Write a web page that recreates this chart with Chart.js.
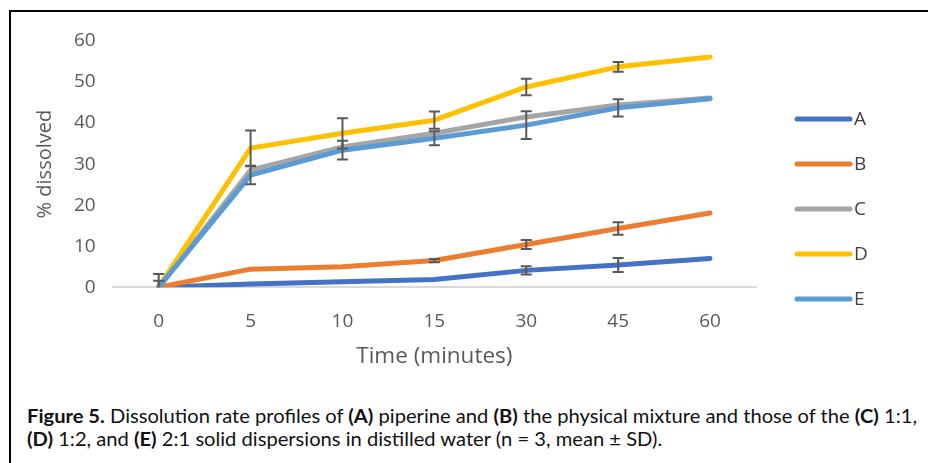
<!DOCTYPE html>
<html>
<head>
<meta charset="utf-8">
<script src="https://cdn.jsdelivr.net/npm/chart.js@4"></script>
<style>
  html, body { margin: 0; padding: 0; background: #fff; }
  body { width: 928px; height: 463px; position: relative; overflow: hidden; }
  #frame { position: absolute; left: 9px; top: 10px; width: 1000px; height: 500px;
           border-top: 2px solid #000; border-left: 2px solid #000; }
  #chart { position: absolute; left: 0; top: 0; }
  .caption { position: absolute; left: 27px; font-family: Lato, "Noto Sans", sans-serif;
             font-size: 19px; line-height: 23px; color: #111; white-space: nowrap;
             transform-origin: 0 0; }
  .caption b { font-weight: 700; }
</style>
</head>
<body>
<div id="frame"></div>
<canvas id="chart" width="928" height="380"></canvas>
<div class="caption" id="cap1" style="top:404px"><b>Figure 5.</b> Dissolution rate profiles of <b>(A)</b> piperine and <b>(B)</b> the physical mixture and those of the <b>(C)</b> 1:1,</div>
<div class="caption" id="cap2" style="top:427px"><b>(D)</b> 1:2, and <b>(E)</b> 2:1 solid dispersions in distilled water (n = 3, mean ± SD).</div>
<script>
// time points (minutes)
const timeLabels = ['0', '5', '10', '15', '30', '45', '60'];
const seriesNames = ['A', 'B', 'C', 'D', 'E'];
const seriesColors = ['#4472C4', '#ED7D31', '#A5A5A5', '#FFC000', '#5B9BD5'];

// % dissolved
const valuesA = [0, 0.8, 1.3, 1.9, 4.1, 5.4, 7.0];
const valuesB = [0, 4.4, 5.0, 6.5, 10.4, 14.3, 18.1];
const valuesC = [0, 28.5, 34.2, 37.5, 41.5, 44.4, 46.1];
const valuesD = [0, 33.9, 37.5, 40.7, 48.8, 53.7, 56.1];
const valuesE = [0, 27.3, 33.4, 36.3, 39.5, 43.7, 45.9];

// SD (error bars)
const sdA = [0, 0, 0, 0, 1.0, 1.7, 0];
const sdB = [0, 0, 0, 0.4, 1.1, 1.5, 0];
const sdC = [0, 0, 0, 0, 0, 0, 0];
const sdD = [3.2, 4.3, 3.7, 2.1, 2.0, 1.2, 0];
const sdE = [1.6, 2.2, 2.3, 1.7, 3.4, 2.1, 0];

const yTicks = { min: 0, max: 60, step: 10 };

const allValues = [valuesA, valuesB, valuesC, valuesD, valuesE];
const allSd = [sdA, sdB, sdC, sdD, sdE];

const tickColor = '#595959';
const chartFont = '"Open Sans"';

/**
 * Error bars drawn from the sd arrays through the y scale
 */
const errorBars = {
  id: 'errorBars',
  afterDatasetsDraw(chart) {
    const { ctx, chartArea, scales: { y } } = chart;
    ctx.save();
    ctx.beginPath();
    ctx.rect(chartArea.left, chartArea.top - 20, chartArea.right - chartArea.left, chartArea.bottom - chartArea.top + 20);
    ctx.clip();
    ctx.strokeStyle = tickColor;
    ctx.lineWidth = 2;
    chart.data.datasets.forEach((ds, di) => {
      const meta = chart.getDatasetMeta(di);
      ds.sd.forEach((e, i) => {
        if (!e) return;
        const x = meta.data[i].x;
        const yHi = y.getPixelForValue(ds.data[i] + e);
        const yLo = y.getPixelForValue(ds.data[i] - e);
        ctx.beginPath();
        ctx.moveTo(x, yHi); ctx.lineTo(x, yLo);
        ctx.moveTo(x - 5.5, yHi); ctx.lineTo(x + 5.5, yHi);
        ctx.moveTo(x - 5.5, yLo); ctx.lineTo(x + 5.5, yLo);
        ctx.stroke();
      });
    });
    ctx.restore();
  }
};

/**
 * Legend on the right, one line sample per series
 */
const sideLegend = {
  id: 'sideLegend',
  afterDraw(chart) {
    const { ctx } = chart;
    ctx.save();
    ctx.font = '19px ' + chartFont;
    ctx.textBaseline = 'middle';
    ctx.lineCap = 'round';
    ctx.lineWidth = 5;
    chart.data.datasets.forEach((ds, i) => {
      const yy = 119 + i * 45;
      ctx.strokeStyle = ds.borderColor;
      ctx.beginPath();
      ctx.moveTo(797, yy); ctx.lineTo(850, yy);
      ctx.stroke();
      ctx.fillStyle = '#404040';
      ctx.fillText(ds.label, 854, yy + 1);
    });
    ctx.restore();
  }
};

const datasets = seriesNames.map((name, i) => ({
  label: name,
  data: allValues[i],
  sd: allSd[i],
  borderColor: seriesColors[i],
  backgroundColor: seriesColors[i],
  borderWidth: 5,
  borderCapStyle: 'round',
  borderJoinStyle: 'round',
  pointRadius: 0,
  tension: 0,
  order: seriesNames.length - i
}));

new Chart(document.getElementById('chart').getContext('2d'), {
  type: 'line',
  data: { labels: timeLabels, datasets },
  options: {
    responsive: false,
    animation: false,
    layout: { padding: { left: 18, top: 41, right: 172, bottom: 10 } },
    plugins: { legend: { display: false }, tooltip: { enabled: false } },
    scales: {
      x: {
        offset: true,
        grid: { display: false, drawTicks: false },
        border: { display: true, color: '#D9D9D9', width: 2 },
        ticks: { color: tickColor, font: { family: chartFont, size: 19 }, padding: 23 },
        title: { display: true, text: 'Time (minutes)', color: tickColor,
                 font: { family: chartFont, size: 22.5 }, padding: { top: -13, bottom: 0 } }
      },
      y: {
        min: yTicks.min,
        max: yTicks.max,
        grid: { display: false, drawTicks: false },
        border: { display: false },
        ticks: { stepSize: yTicks.step, color: tickColor, font: { family: chartFont, size: 19 }, padding: 17 },
        title: { display: true, text: '% dissolved', color: tickColor,
                 font: { family: chartFont, size: 20 }, padding: { top: 15, bottom: 0 } }
      }
    }
  },
  plugins: [errorBars, sideLegend]
});

// squeeze caption to the reference width
const cap1 = document.getElementById('cap1');
const cap2 = document.getElementById('cap2');
const k = 890 / cap1.getBoundingClientRect().width;
cap1.style.transform = `scaleX(${k})`;
cap2.style.transform = `scaleX(${k})`;
</script>
</body>
</html>
